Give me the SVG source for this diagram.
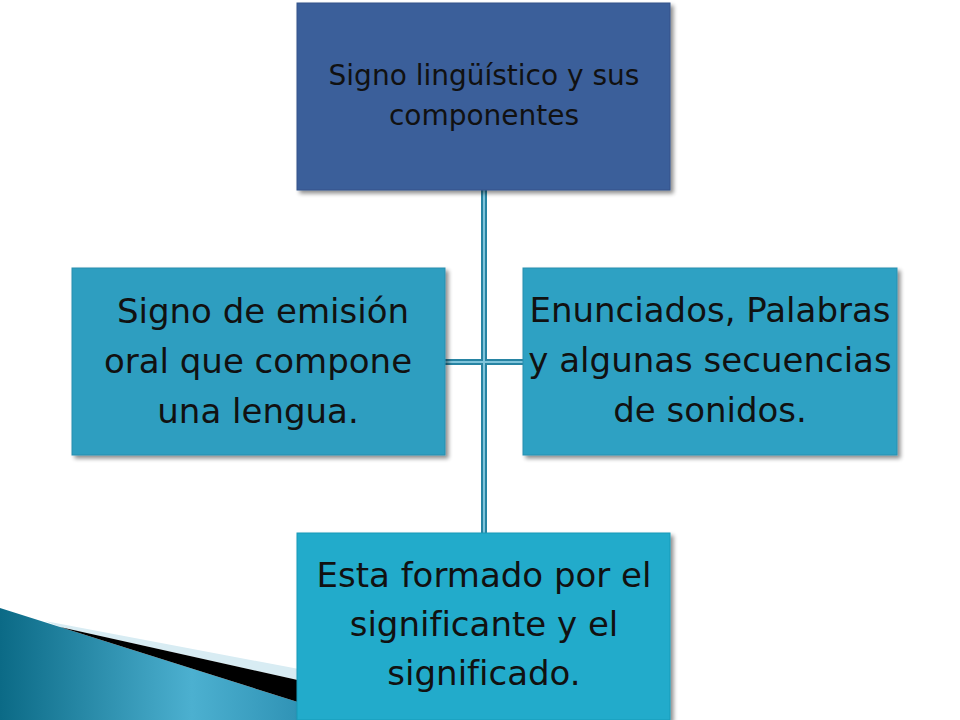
<svg xmlns="http://www.w3.org/2000/svg" width="960" height="720" viewBox="0 0 960 720">
<defs>
<style>
.box{stroke-width:1;}
.t{font-family:"DejaVu Sans","Verdana",sans-serif;fill:#111;text-anchor:middle;font-variant-ligatures:none;}
.big{font-size:34px;}
.small{font-size:28px;}
.cOuter{stroke:#2784a3;stroke-width:6;fill:none;}
.cInner{stroke:#7fc4db;stroke-width:2;fill:none;}
</style>
<filter id="sh" x="-10%" y="-10%" width="125%" height="125%">
<feGaussianBlur in="SourceAlpha" stdDeviation="2"/>
<feOffset dx="3" dy="3" result="b"/>
<feComponentTransfer><feFuncA type="linear" slope="0.45"/></feComponentTransfer>
<feMerge><feMergeNode/><feMergeNode in="SourceGraphic"/></feMerge>
</filter>
<linearGradient id="teal" x1="0" y1="0" x2="1" y2="0">
<stop offset="0" stop-color="#0b6a86"/>
<stop offset="0.6" stop-color="#4cb0d0"/>
<stop offset="1" stop-color="#2a8db0"/>
</linearGradient>
</defs>
<rect width="960" height="720" fill="#ffffff"/>
<g id="decoration">
<polygon points="45,621 320,673 320,685 60,627" fill="#d8ecf3"/>
<polygon points="0,608 60,627 320,709 320,720 0,720" fill="url(#teal)"/>
<polygon points="60,627 320,685 320,709" fill="#000000"/>
</g>
<g id="connectors">
<line class="cOuter" x1="484" y1="190" x2="484" y2="533"/>
<line class="cOuter" x1="445" y1="362" x2="523" y2="362"/>
<line class="cInner" x1="484" y1="190" x2="484" y2="533"/>
<line class="cInner" x1="445" y1="362" x2="523" y2="362"/>
</g>
<g id="node-top">
<rect class="box" x="297" y="3" width="373" height="187" fill="#3b5f9a" stroke="#34558a" filter="url(#sh)"/>
<text class="t small" x="484" y="85">Signo lingüístico y sus</text>
<text class="t small" x="484" y="125">componentes</text>
</g>
<g id="node-left">
<rect class="box" x="72" y="268" width="373" height="187" fill="#2e9ec0" stroke="#2a8eae" filter="url(#sh)"/>
<text class="t big" x="263" y="323">Signo de emisión</text>
<text class="t big" x="258" y="373">oral que compone</text>
<text class="t big" x="258" y="423">una lengua.</text>
</g>
<g id="node-right">
<rect class="box" x="523" y="268" width="374" height="187" fill="#2ea1c3" stroke="#2a90b0" filter="url(#sh)"/>
<text class="t big" x="710" y="322">Enunciados, Palabras</text>
<text class="t big" x="710" y="372">y algunas secuencias</text>
<text class="t big" x="710" y="422">de sonidos.</text>
</g>
<g id="node-bottom">
<rect class="box" x="297" y="533" width="373" height="187" fill="#20abcb" stroke="#1c9ab8" filter="url(#sh)"/>
<text class="t big" x="484" y="587">Esta formado por el</text>
<text class="t big" x="484" y="636">significante y el</text>
<text class="t big" x="484" y="685">significado.</text>
</g>
</svg>
